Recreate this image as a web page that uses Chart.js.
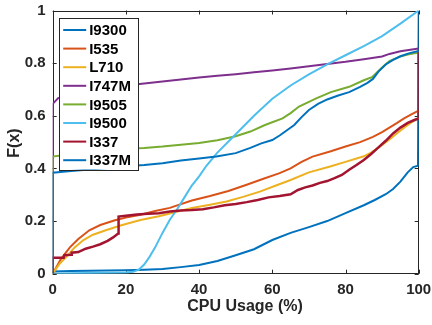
<html>
<head>
<script src="https://cdn.jsdelivr.net/npm/chart.js@4.4.0/dist/chart.umd.min.js"></script>
<style>
  body { margin: 0; background: #fff; }
</style>
</head>
<body>
<canvas id="cdf" width="432" height="325"></canvas>
<script>
// series names (legend order) and MATLAB colours
var names = ["I9300", "I535", "L710", "I747M", "I9505", "I9500", "I337", "I337M"];
var colors = ["#0072BD", "#D95319", "#EDB120", "#7E2F8E", "#77AC30", "#4DBEEE", "#A2142F", "#0072BD"];
var xTicks = [0, 20, 40, 60, 80, 100];
var yTicks = [0, 0.2, 0.4, 0.6, 0.8, 1];

// [cpu %, F(x)]
var i9300 = [[0,0],[0.3,0.008],[5,0.01],[10,0.011],[15,0.012],[20,0.013],[25,0.015],[30,0.018],[35,0.025],
  [40,0.033],[45,0.048],[50,0.07],[55,0.093],[60,0.128],[65,0.155],[70,0.177],[75,0.2],[80,0.23],[85,0.26],
  [88,0.28],[91,0.302],[93,0.322],[95,0.35],[97,0.385],[98.5,0.405],[99.8,0.41],[100,1]];
var i535 = [[0,0],[1,0.025],[2,0.05],[3,0.07],[4.7,0.1],[7,0.132],[10,0.165],[13,0.185],[17,0.203],[20,0.213],
  [24,0.224],[28,0.238],[32,0.25],[38,0.278],[43,0.295],[48,0.314],[53,0.338],[57,0.358],[62,0.382],[65,0.4],
  [68,0.425],[71,0.445],[76,0.465],[80,0.483],[84,0.5],[87.5,0.52],[90,0.538],[92,0.555],[94,0.572],[96,0.59],
  [98,0.605],[100,0.62]];
var l710 = [[0,0],[1,0.02],[2,0.04],[3.8,0.065],[6,0.1],[8.4,0.128],[11,0.148],[14.7,0.166],[19,0.185],[24,0.204],
  [29,0.218],[32,0.229],[38,0.25],[43,0.262],[47.5,0.274],[52,0.292],[56.6,0.312],[61,0.335],[65,0.356],[70,0.385],
  [75.8,0.407],[80,0.425],[84.8,0.445],[87,0.46],[89.4,0.483],[92,0.51],[94,0.533],[96,0.555],[98,0.575],[100,0.592]];
var i747m = [[0,0],[0,0.645],[1.5,0.667],[5,0.68],[10,0.693],[15,0.705],[20,0.715],[25,0.723],[30,0.73],[35,0.738],
  [40,0.745],[45,0.752],[50,0.758],[55,0.765],[60,0.772],[65,0.78],[70,0.788],[75,0.797],[80,0.805],[85,0.815],
  [90,0.825],[92,0.835],[95,0.845],[100,0.856]];
var i9505 = [[0,0],[0,0.445],[5,0.455],[10,0.463],[15,0.47],[20,0.475],[25,0.478],[30,0.483],[35,0.49],[40,0.497],
  [45,0.507],[50,0.522],[54,0.54],[58,0.565],[62.8,0.59],[65,0.61],[67.3,0.635],[72,0.666],[76,0.69],[81,0.71],
  [85,0.735],[87.4,0.748],[89,0.77],[90.2,0.786],[92,0.808],[94.7,0.824],[97,0.833],[100,0.84]];
var i9500 = [[0,0],[5,0.002],[10,0.003],[15,0.004],[20,0.005],[22,0.007],[23.5,0.015],[25,0.035],[26.5,0.065],
  [28,0.1],[30,0.155],[32,0.205],[34,0.245],[36,0.29],[38,0.335],[40,0.37],[42,0.41],[45,0.46],[50,0.53],[55,0.6],
  [60,0.665],[65,0.715],[70,0.757],[75,0.795],[80,0.83],[85,0.865],[90,0.903],[95,0.95],[100,1]];
var i337 = [[0,0],[0,0.061],[3,0.061],[3.2,0.07],[5,0.072],[5.2,0.08],[7,0.082],[9,0.095],[11,0.103],[13,0.112],
  [15,0.125],[16.5,0.138],[17.9,0.153],[18,0.217],[20,0.22],[23,0.225],[26,0.228],[29,0.23],[32,0.236],[35,0.24],
  [38,0.242],[41,0.245],[44,0.252],[47,0.26],[50,0.265],[53,0.272],[56,0.28],[59,0.29],[62,0.295],[65,0.302],
  [67,0.318],[69,0.328],[71,0.335],[73,0.345],[75,0.352],[77,0.363],[79,0.375],[81,0.395],[83,0.413],[85,0.432],
  [87,0.455],[89,0.48],[91,0.505],[93,0.533],[95,0.555],[97,0.573],[99,0.585],[100,0.59],[100,0.845]];
var i337m = [[0,0],[0,0.384],[5,0.39],[10,0.396],[15,0.402],[20,0.408],[25,0.413],[30,0.42],[35,0.43],[40,0.438],
  [44.7,0.445],[50,0.458],[54,0.478],[57,0.495],[60,0.508],[62,0.525],[64,0.545],[66,0.565],[68,0.595],[70,0.622],
  [72.5,0.645],[75,0.662],[78,0.677],[81,0.69],[84,0.71],[86,0.725],[87.5,0.74],[89,0.768],[91,0.795],[93,0.812],
  [95,0.826],[97.5,0.838],[100,0.846]];

var series = [i9300, i535, l710, i747m, i9505, i9500, i337, i337m];
var FONT = "'Liberation Sans', Arial, sans-serif";
var AX = "#262626";

var datasets = series.map(function (s, i) {
  return {
    label: names[i],
    data: s.map(function (p) { return { x: p[0], y: p[1] }; }),
    borderColor: colors[i],
    borderWidth: i == 6 ? 2.5 : 2,
    pointRadius: 0,
    tension: 0,
    fill: false,
    order: series.length - 1 - i   // later series on top, like matlab
  };
});

// axes box, inward ticks and axis titles
var frame = {
  id: 'frame',
  beforeDatasetsDraw: function (chart) {
    var ctx = chart.ctx, a = chart.chartArea;
    var sx = chart.scales.x, sy = chart.scales.y;
    ctx.save();
    ctx.strokeStyle = AX;
    ctx.lineWidth = 1;
    ctx.strokeRect(Math.round(a.left) + 0.5, Math.round(a.top) + 0.5,
      Math.round(a.right - a.left) - 1, Math.round(a.bottom - a.top) - 1);
    ctx.beginPath();
    xTicks.forEach(function (t) {
      var x = Math.round(sx.getPixelForValue(t)) + 0.5;
      ctx.moveTo(x, a.bottom); ctx.lineTo(x, a.bottom - 4);
      ctx.moveTo(x, a.top); ctx.lineTo(x, a.top + 4);
    });
    yTicks.forEach(function (t) {
      var y = Math.round(sy.getPixelForValue(t)) + 0.5;
      ctx.moveTo(a.left, y); ctx.lineTo(a.left + 4, y);
      ctx.moveTo(a.right, y); ctx.lineTo(a.right - 4, y);
    });
    ctx.stroke();

    ctx.fillStyle = AX;
    ctx.font = "bold 16px " + FONT;
    ctx.textAlign = 'center';
    ctx.textBaseline = 'middle';
    ctx.fillText("CPU Usage (%)", 245, 307);
    ctx.translate(15, 143);
    ctx.rotate(-Math.PI / 2);
    ctx.fillText("F(x)", 0, 0);
    ctx.restore();
  },
  afterDatasetsDraw: function (chart) {
    var ctx = chart.ctx, a = chart.chartArea;
    var bx = a.left + 6.5, by = a.top + 7, bw = 79, bh = 152;
    ctx.save();
    ctx.fillStyle = "#fff";
    ctx.fillRect(bx, by, bw, bh);
    ctx.strokeStyle = AX;
    ctx.lineWidth = 1;
    ctx.strokeRect(Math.round(bx) + 0.5, Math.round(by) + 0.5, bw, bh);
    ctx.font = "bold 15px " + FONT;
    ctx.textBaseline = 'middle';
    ctx.textAlign = 'left';
    names.forEach(function (n, i) {
      var y = by + 12.5 + i * 18.6;
      ctx.strokeStyle = colors[i];
      ctx.lineWidth = 2;
      ctx.beginPath();
      ctx.moveTo(bx + 4, y); ctx.lineTo(bx + 27, y);
      ctx.stroke();
      ctx.fillStyle = "#000";
      ctx.fillText(n, bx + 30, y + 1);
    });
    ctx.restore();
  }
};

var ctx = document.getElementById("cdf").getContext("2d");
var chart = new Chart(ctx, {
  type: 'line',
  data: { datasets: datasets },
  plugins: [frame],
  options: {
    responsive: false,
    animation: false,
    devicePixelRatio: 1,
    layout: { padding: { top: 10.5, right: 13.3, left: 0, bottom: 0 } },
    plugins: { legend: { display: false }, tooltip: { enabled: false } },
    scales: {
      x: {
        type: 'linear', min: 0, max: 100,
        afterFit: function (s) { s.height = 51.3; s.paddingLeft = 0; s.paddingRight = 0; },
        afterBuildTicks: function (s) { s.ticks = xTicks.map(function (v) { return { value: v }; }); },
        grid: { display: false, drawTicks: false },
        border: { display: false },
        ticks: { color: AX, padding: 7, maxRotation: 0, font: { family: FONT, size: 15, weight: 'bold' } }
      },
      y: {
        type: 'linear', min: 0, max: 1,
        afterFit: function (s) { s.width = 52.7; s.paddingTop = 0; s.paddingBottom = 0; },
        afterBuildTicks: function (s) { s.ticks = yTicks.map(function (v) { return { value: v }; }); },
        grid: { display: false, drawTicks: false },
        border: { display: false },
        ticks: {
          color: AX, padding: 7, font: { family: FONT, size: 15, weight: 'bold' },
          callback: function (v) { return String(Math.round(v * 10) / 10); }
        }
      }
    }
  }
});
</script>
</body>
</html>
